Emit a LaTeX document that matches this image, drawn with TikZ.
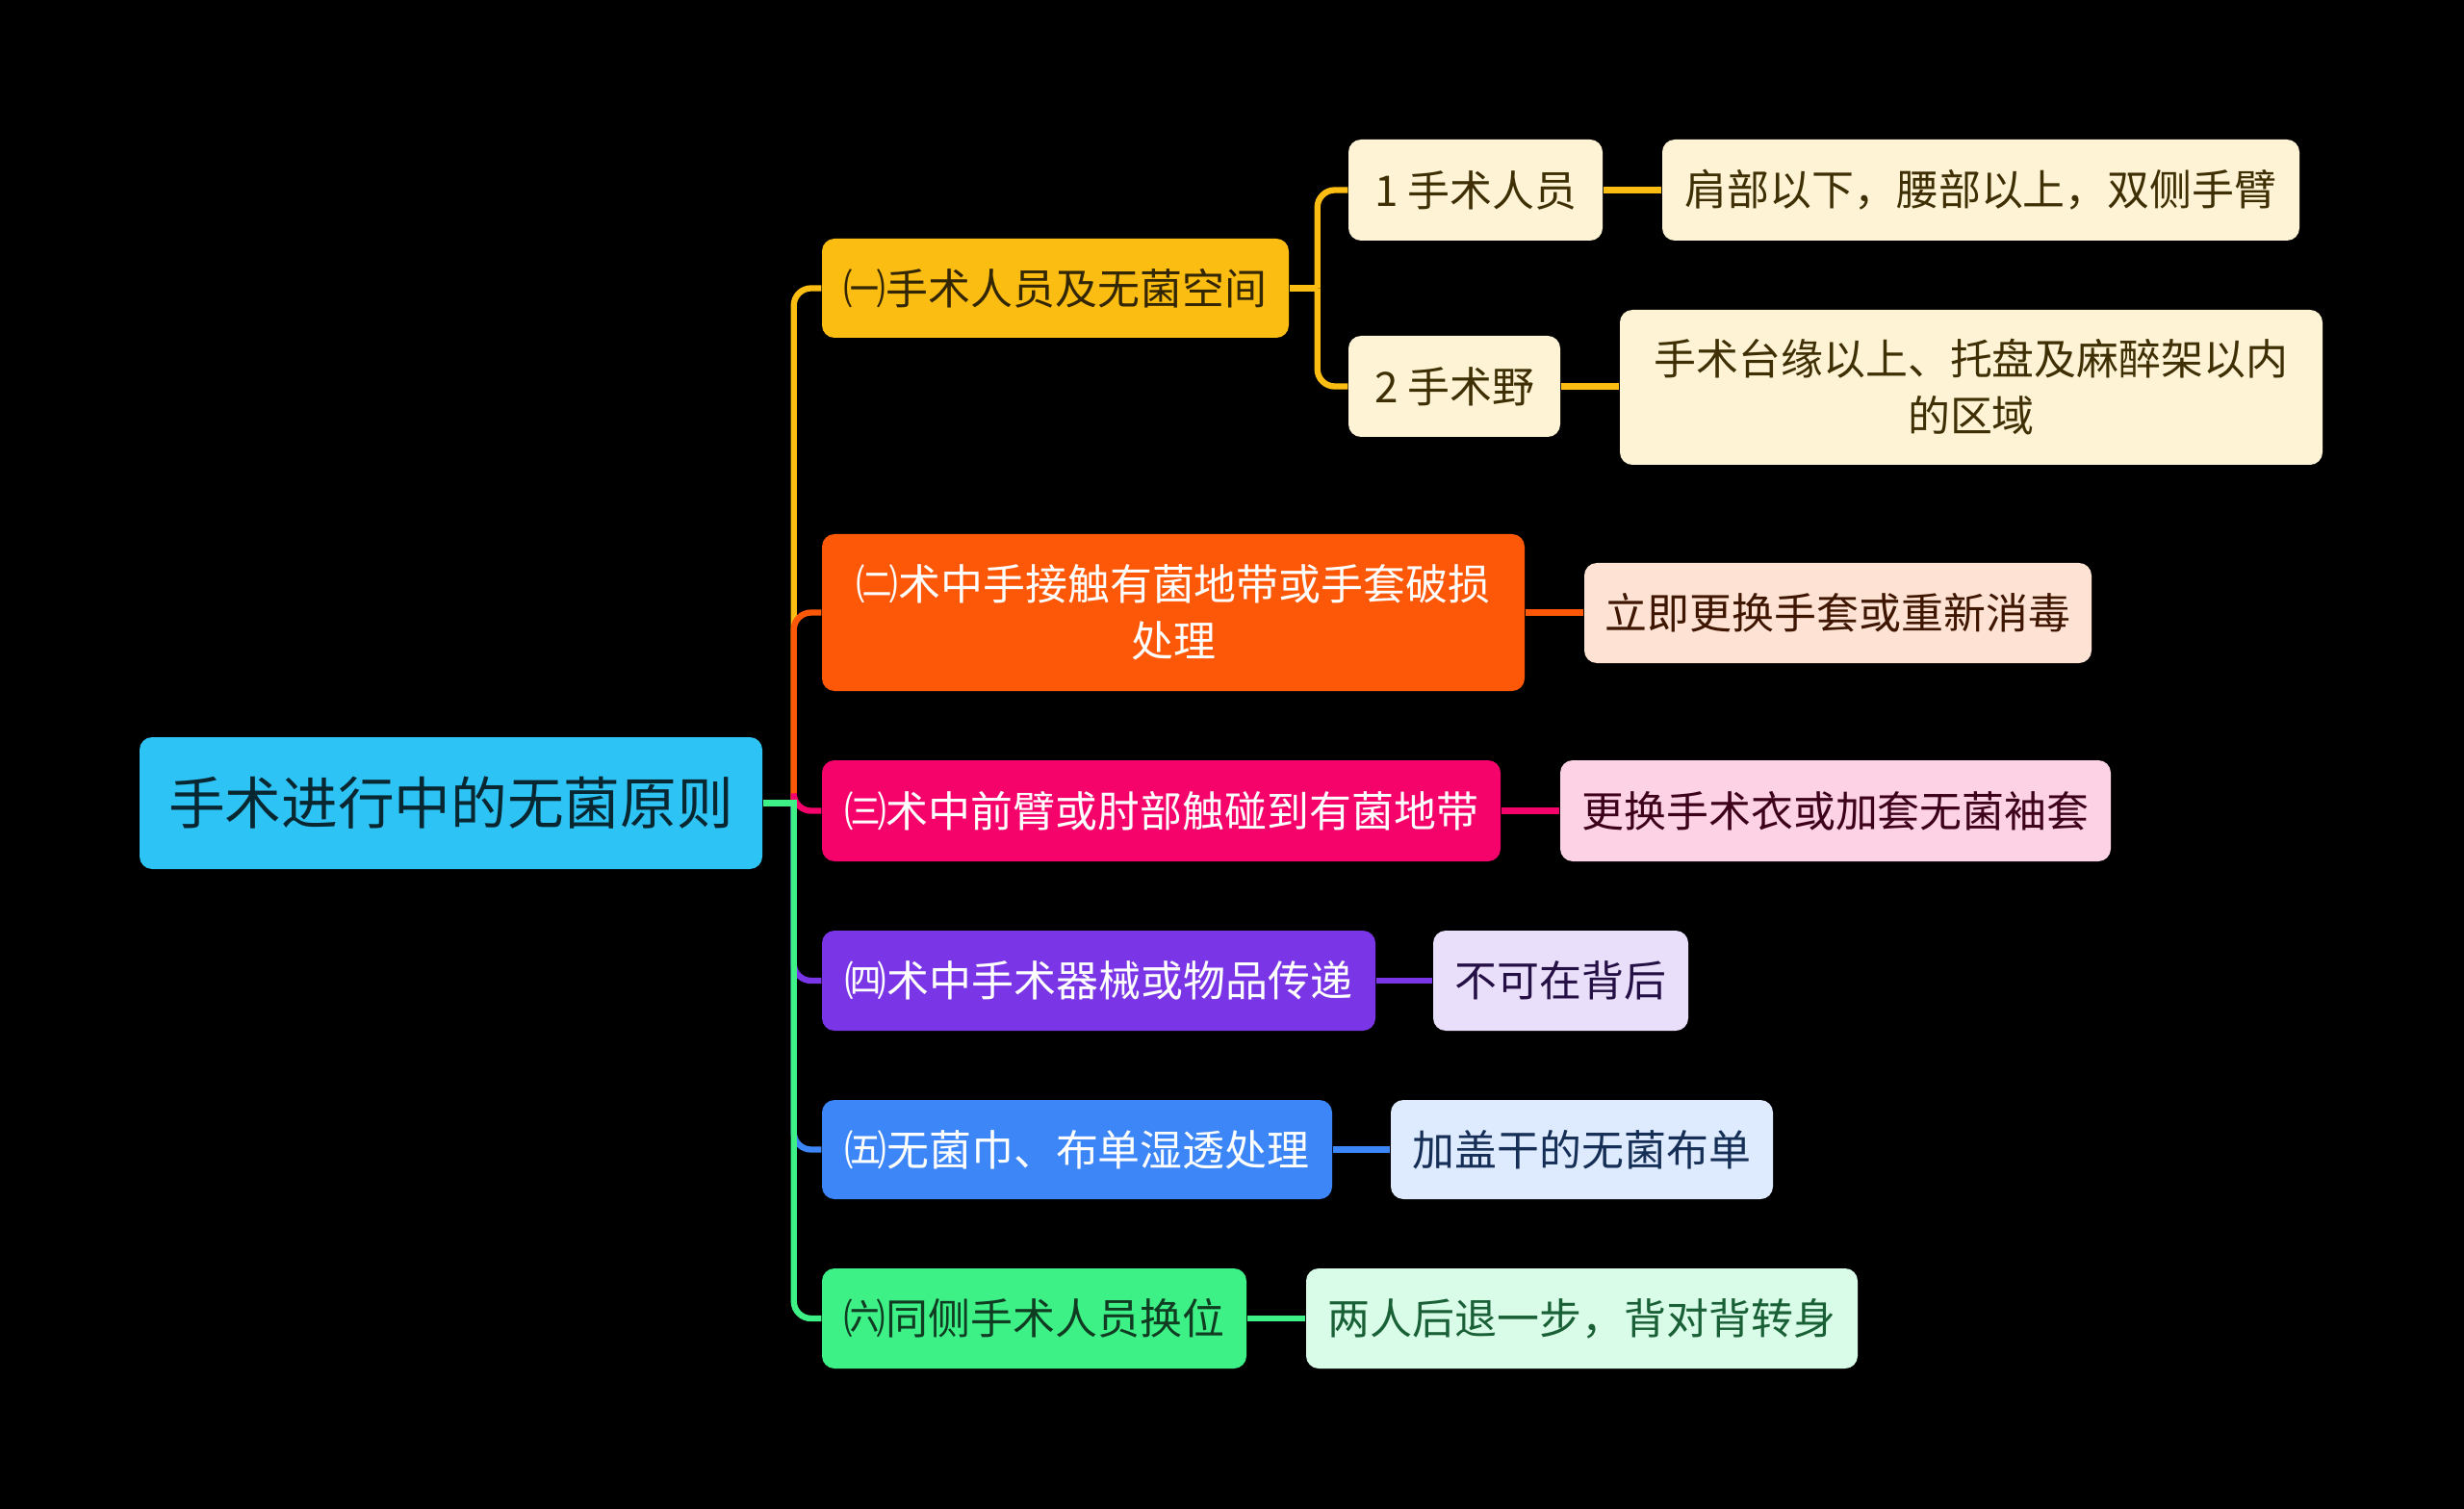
\documentclass[tikz,border=0pt]{standalone}
\usepackage{fontspec}
\setmainfont{Noto Sans CJK SC}
\definecolor{rootc}{HTML}{2EC3F5}
\definecolor{yellowc}{HTML}{FCBD12}
\definecolor{orangec}{HTML}{FC5808}
\definecolor{pinkc}{HTML}{F5036B}
\definecolor{purplec}{HTML}{7A36E6}
\definecolor{bluec}{HTML}{3C86F7}
\definecolor{greenc}{HTML}{3EF187}
\tikzset{
  box/.style={rounded corners=0.13cm, align=center, inner sep=0pt,
    font=\fontsize{12.5}{16.8}\selectfont},
  root/.style={box, fill=rootc, text=black!80!rootc,
    font=\fontsize{16.7}{20}\selectfont},
  link/.style={line width=1.8pt, rounded corners=0.18cm},
}
\begin{document}
\begin{tikzpicture}
    \fill[black] (0,0) rectangle (25.6,-15.68);
    \useasboundingbox (0,0) rectangle (25.6,-15.68);
    % root and main branches
    \node[root, minimum width=6.47cm, minimum height=1.37cm] (root) at (4.685,-8.345) {手术进行中的无菌原则};
    \node[box, fill=yellowc, text=black!80!yellowc, minimum width=4.85cm, minimum height=1.03cm] (b1) at (10.965,-2.995) {㈠手术人员及无菌空间};
    \node[box, fill=orangec, text=white, minimum width=7.30cm, minimum height=1.63cm] (b2) at (12.19,-6.365) {㈡术中手接触有菌地带或手套破损\\处理};
    \node[box, fill=pinkc, text=white, minimum width=7.05cm, minimum height=1.05cm] (b3) at (12.065,-8.425) {㈢术中前臂或肘部触碰到有菌地带};
    \node[box, fill=purplec, text=white, minimum width=5.75cm, minimum height=1.04cm] (b4) at (11.415,-10.19) {㈣术中手术器械或物品传递};
    \node[box, fill=bluec, text=white, minimum width=5.30cm, minimum height=1.03cm] (b5) at (11.19,-11.945) {㈤无菌巾、布单湿透处理};
    \node[box, fill=greenc, text=black!75!greenc, minimum width=4.41cm, minimum height=1.04cm] (b6) at (10.745,-13.70) {㈥同侧手术人员换位};
    % sub items
    \node[box, fill=yellowc!18, text=black!75!yellowc, minimum width=2.64cm, minimum height=1.05cm] (l1a) at (15.33,-1.975) {1\ 手术人员};
    \node[box, fill=yellowc!18, text=black!75!yellowc, minimum width=2.20cm, minimum height=1.05cm] (l1b) at (15.11,-4.015) {2\ 手术野};
    \node[box, fill=yellowc!18, text=black!75!yellowc, minimum width=6.62cm, minimum height=1.05cm] (d1a) at (20.58,-1.975) {肩部以下，腰部以上，双侧手臂};
    \node[box, fill=yellowc!18, text=black!75!yellowc, minimum width=7.30cm, minimum height=1.61cm] (d1b) at (20.48,-4.025) {手术台缘以上、托盘及麻醉架以内\\的区域};
    \node[box, fill=orangec!17, text=black!75!orangec, minimum width=5.27cm, minimum height=1.04cm] (d2) at (19.095,-6.37) {立即更换手套或重新消毒};
    \node[box, fill=pinkc!18, text=black!75!pinkc, minimum width=5.72cm, minimum height=1.05cm] (d3) at (19.07,-8.425) {更换手术衣或加套无菌袖套};
    \node[box, fill=purplec!16, text=black!70!purplec, minimum width=2.65cm, minimum height=1.04cm] (d4) at (16.215,-10.19) {不可在背后};
    \node[box, fill=bluec!17, text=black!65!bluec, minimum width=3.97cm, minimum height=1.03cm] (d5) at (16.435,-11.945) {加盖干的无菌布单};
    \node[box, fill=greenc!20, text=black!60!greenc, minimum width=5.73cm, minimum height=1.04cm] (d6) at (16.435,-13.70) {两人后退一步，背对背转身};
    % connectors
    \coordinate (trunk) at ([xshift=0.32cm]root.east);
    \coordinate (fork1) at ([xshift=0.29cm]b1.east);
    \draw[link, yellowc] (trunk) |- (b1.west);
    \draw[link, orangec] (trunk) |- (b2.west);
    \draw[link, pinkc] (trunk) |- (b3.west);
    \draw[link, purplec] (trunk) |- (b4.west);
    \draw[link, bluec] (trunk) |- (b5.west);
    \draw[link, greenc] (trunk) |- (b6.west);
    \draw[link, greenc] (root.east) -- ([xshift=1pt]trunk);
    \draw[link, yellowc] (b1.east) -- (fork1);
    \draw[link, yellowc] (fork1) |- (l1a.west);
    \draw[link, yellowc] (fork1) |- (l1b.west);
    \draw[link, yellowc] (l1a.east) -- (d1a.west);
    \draw[link, yellowc] (l1b.east) -- (l1b.east -| d1b.west);
    \draw[link, orangec] (b2.east) -- (b2.east -| d2.west);
    \draw[link, pinkc] (b3.east) -- (d3.west);
    \draw[link, purplec] (b4.east) -- (d4.west);
    \draw[link, bluec] (b5.east) -- (d5.west);
    \draw[link, greenc] (b6.east) -- (d6.west);
\end{tikzpicture}
\end{document}
